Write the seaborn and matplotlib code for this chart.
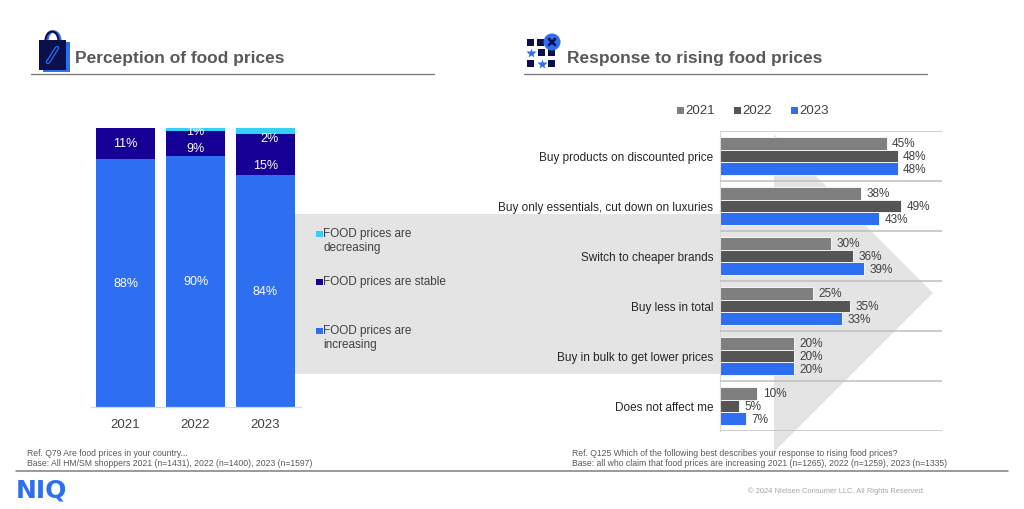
import matplotlib
matplotlib.use('Agg')
import matplotlib.pyplot as plt
import seaborn as sns
import pandas as pd
import numpy as np
from matplotlib.patches import Rectangle, Polygon, Circle, Arc

# ---------------- data ----------------
years = ['2021', '2022', '2023']
increasing = [88, 90, 84]
stable = [11, 9, 15]
decreasing = [0, 1, 2]
perception_legend = ['FOOD prices are\ndecreasing', 'FOOD prices are stable', 'FOOD prices are\nincreasing']

responses = ['Buy products on discounted price',
             'Buy only essentials, cut down on luxuries',
             'Switch to cheaper brands',
             'Buy less in total',
             'Buy in bulk to get lower prices',
             'Does not affect me']
resp_years = ['2021', '2022', '2023']
resp_2021 = [45, 38, 30, 25, 20, 10]
resp_2022 = [48, 49, 36, 35, 20, 5]
resp_2023 = [48, 43, 39, 33, 20, 7]

title_left = 'Perception of food prices'
title_right = 'Response to rising food prices'
note_left = ['Ref. Q79 Are food prices in your country...',
             'Base: All HM/SM shoppers 2021 (n=1431), 2022 (n=1400), 2023 (n=1597)']
note_right = ['Ref. Q125 Which of the following best describes your response to rising food prices?',
              'Base: all who claim that food prices are increasing 2021 (n=1265), 2022 (n=1259), 2023 (n=1335)']
copyright_txt = '© 2024 Nielsen Consumer LLC. All Rights Reserved.'

# ---------------- style ----------------
C_INC = '#2e6ff2'
C_STAB = '#150096'
C_DEC = '#36cff6'
C_2021 = '#7f7f7f'
C_2022 = '#555555'
C_2023 = '#2e6ff2'
NAVY = '#0b0f4c'
TXT = '#404040'

sns.set_theme(style='white')
plt.rcParams['font.family'] = ['Liberation Sans', 'DejaVu Sans']

W, H = 1024, 510
fig = plt.figure(figsize=(W / 100, H / 100), dpi=100)
fig.patch.set_facecolor('white')

# background / decoration layer in pixel coordinates
bg = fig.add_axes([0, 0, 1, 1], zorder=0)
bg.set_xlim(0, W)
bg.set_ylim(H, 0)
bg.axis('off')

# big arrow
bg.add_patch(Polygon([(295, 215), (774, 215), (774, 135), (933, 294),
                      (774, 453), (774, 375), (295, 375)],
                     closed=True, fc='#e4e4e4', ec='none', zorder=0))

# titles and rules
bg.text(75, 59, title_left, fontsize=12.5, fontweight='bold', color='#595959', va='center', ha='left')
bg.text(567, 59, title_right, fontsize=12.5, fontweight='bold', color='#595959', va='center', ha='left')
bg.plot([31, 434], [75, 75], color='#7f7f7f', lw=1)
bg.plot([524, 927], [75, 75], color='#7f7f7f', lw=1)

# bag icon
bg.add_patch(Arc((54, 42), 13, 19, theta1=180, theta2=360, color=C_INC, lw=1.6))
bg.add_patch(Arc((52, 42), 13, 19, theta1=180, theta2=360, color=NAVY, lw=1.6))
bg.add_patch(Rectangle((43, 43), 27, 30, fc=C_INC, ec='none'))
bg.add_patch(Rectangle((39, 41), 27, 30, fc=NAVY, ec='none'))
bg.plot([48, 57], [63, 49], color=C_INC, lw=3.2, solid_capstyle='round')
bg.plot([48, 57], [63, 49], color=NAVY, lw=1.4, solid_capstyle='round')

# grid icon
for (x, y) in [(527, 40), (537, 40), (538, 50), (548, 50), (527, 61), (548, 61)]:
    bg.add_patch(Rectangle((x, y), 7, 7, fc=NAVY, ec='none'))
bg.plot([530.5, 541.5], [53.5, 64.5], ls='none', marker='*', ms=7.5, color=C_INC, mec='none')
bg.add_patch(Circle((552, 43), 8.5, fc=C_INC, ec='none'))
bg.plot([549, 555], [40, 46], color=NAVY, lw=2)
bg.plot([549, 555], [46, 40], color=NAVY, lw=2)

# left legend
leg_y = [235, 283, 332]
leg_cols = [C_DEC, C_STAB, C_INC]
for lbl, yy, col in zip(perception_legend, leg_y, leg_cols):
    bg.add_patch(Rectangle((316, yy - 3.5), 6.5, 6.5, fc=col, ec='none'))
    bg.text(323, yy - 6.5, lbl, fontsize=8.5, color=TXT, va='top', ha='left', linespacing=1.12)

# right legend
for xx, lbl, col in zip([677, 734, 791], resp_years, [C_2021, C_2022, C_2023]):
    bg.add_patch(Rectangle((xx, 107.5), 7, 7, fc=col, ec='none'))
    bg.text(xx + 8, 111, lbl, fontsize=9.5, color=TXT, va='center', ha='left')

# footnotes
bg.text(27, 454, note_left[0], fontsize=6.2, color='#595959', va='center')
bg.text(27, 464, note_left[1], fontsize=6.2, color='#595959', va='center')
bg.text(572, 454, note_right[0], fontsize=6.2, color='#595959', va='center')
bg.text(572, 464, note_right[1], fontsize=6.2, color='#595959', va='center')
bg.plot([16, 1008], [471.5, 471.5], color='#7f7f7f', lw=1.1)
bg.text(16, 491, 'NIQ', fontsize=18, fontweight='bold', color=C_INC, va='center', ha='left',
        family=['DejaVu Sans'])
bg.text(748, 491, copyright_txt, fontsize=5.4, color='#a6a6a6', va='center')

# ---------------- left chart: 100% stacked bars ----------------
axL = fig.add_axes([90.5 / W, 1 - 408 / H, 210 / W, 279 / H], zorder=2)
axL.patch.set_alpha(0)
inc = np.array(increasing, float)
stb = np.array(stable, float)
dec = np.array(decreasing, float)
tot = inc + stb + dec
top_all = tot / tot
top_stb = (inc + stb) / tot
top_inc = inc / tot

for vals, col in [(top_all, C_DEC), (top_stb, C_STAB), (top_inc, C_INC)]:
    sns.barplot(x=years, y=vals, color=col, width=0.843, saturation=1,
                linewidth=0, ax=axL, errorbar=None)

axL.set_ylim(0, 1)
axL.set_xlim(-0.5, 2.5)
axL.set_xlabel('')
axL.set_ylabel('')
axL.set_yticks([])
for s in ['top', 'right', 'left']:
    axL.spines[s].set_visible(False)
axL.spines['bottom'].set_color('#d9d9d9')
axL.spines['bottom'].set_linewidth(0.9)
axL.tick_params(axis='x', length=0, pad=8, labelsize=9.5, labelcolor=TXT)

# label placement nudges (in axis units) for crowded small segments
stab_nudge = [0.0, -0.017, -0.039]
dec_nudge = [0.0, -0.004, -0.026]
dec_xnudge = [0.0, 0.0, 0.05]
for i in range(len(years)):
    axL.text(i, top_inc[i] / 2, f'{increasing[i]}%', color='white', fontsize=9,
             ha='center', va='center')
    axL.text(i, (top_inc[i] + top_stb[i]) / 2 + stab_nudge[i], f'{stable[i]}%',
             color='white', fontsize=9, ha='center', va='center')
    if decreasing[i] > 0:
        axL.text(i + dec_xnudge[i], (top_stb[i] + top_all[i]) / 2 + dec_nudge[i],
                 f'{decreasing[i]}%', color='white', fontsize=9, ha='center',
                 va='center', clip_on=False)

# ---------------- right chart: grouped horizontal bars ----------------
df = pd.DataFrame({
    'response': responses * 3,
    'year': [y for y in resp_years for _ in responses],
    'value': resp_2021 + resp_2022 + resp_2023,
})
axR = fig.add_axes([720 / W, 1 - 432 / H, 222 / W, 300 / H], zorder=2)
axR.patch.set_alpha(0)
sns.barplot(data=df, x='value', y='response', hue='year', order=responses,
            hue_order=resp_years, palette=[C_2021, C_2022, C_2023], orient='h',
            width=0.76, saturation=1, edgecolor='white', linewidth=0.6,
            errorbar=None, legend=False, ax=axR)
axR.set_xlim(0, 60)
axR.set_ylim(5.5, -0.5)
axR.set_xlabel('')
axR.set_ylabel('')
axR.set_xticks([])
for s in ['top', 'right', 'bottom']:
    axR.spines[s].set_visible(False)
axR.spines['left'].set_color('#d9d9d9')
axR.spines['left'].set_linewidth(0.8)
axR.tick_params(axis='y', length=0, pad=5, labelsize=8.5, labelcolor='#262626')
for b in np.arange(-0.5, len(responses), 1.0):
    axR.axhline(b, color='#bfbfbf', lw=1.1, zorder=3)
for cont in axR.containers:
    axR.bar_label(cont, fmt='%.0f%%', padding=4, fontsize=8.5, color=TXT)

fig.savefig('out.png', dpi=100, facecolor='white')
